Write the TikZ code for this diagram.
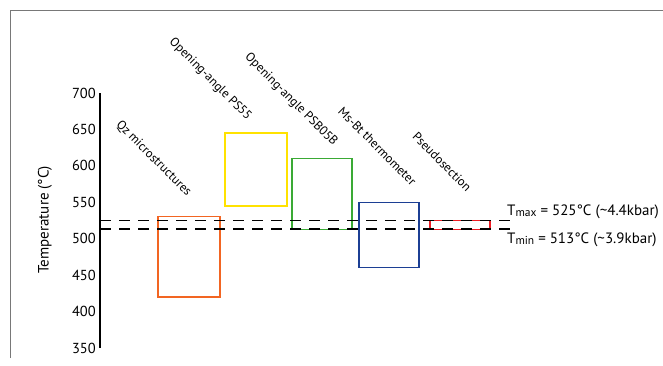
\documentclass[tikz,border=0pt]{standalone}
\usepackage{fontspec}
\setmainfont{PT Sans}
\usetikzlibrary{positioning}
\definecolor{qzorange}{RGB}{242,101,34}
\definecolor{psyellow}{RGB}{255,226,0}
\definecolor{psbgreen}{RGB}{58,170,53}
\definecolor{msblue}{RGB}{28,63,148}
\definecolor{pseudored}{RGB}{237,28,36}
\definecolor{framegray}{RGB}{120,120,120}
\tikzset{
  tbox/.style={line width=1.3pt},
  reflevel/.style={line width=1.8pt, dash pattern=on 11pt off 8pt},
  method/.style={rotate=-45, anchor=east, inner sep=1pt, font=\fontsize{12.5}{14}\selectfont},
  ticklabel/.style={anchor=east, inner sep=1pt, font=\fontsize{14.5}{16}\selectfont},
  tlabel/.style={anchor=west, inner sep=1pt, font=\fontsize{15}{17}\selectfont}
}
\newcommand{\lowsub}[1]{\raisebox{-1pt}{\fontsize{11.5}{13}\selectfont #1}}
\begin{document}
\begin{tikzpicture}[x=1pt,y=1pt]
  \useasboundingbox (0,0) rectangle (663,365);
  % frame of the panel
  \draw[framegray, line width=0.8pt] (10,7) -- (10,355) -- (663,355);
  \begin{scope}[y=0.7286pt, yshift=-238pt]
    % axis
    \draw[line width=1.2pt] (100,350) -- (100,700);
    \foreach \t in {350,400,...,700}
      \node[ticklabel] (tick\t) at (97,\t) {\t};
    \node[rotate=90, font=\fontsize{15}{17}\selectfont] (ylabel) at (45,526) {Temperature (°C)};
    % temperature ranges
    \draw[tbox, qzorange] (158,420) rectangle (220,530);
    \draw[tbox, psyellow] (225,545) rectangle (287,645);
    \draw[tbox, psbgreen] (292,513) rectangle (352,610);
    \draw[tbox, msblue] (359,460) rectangle (419,550);
    \draw[tbox, pseudored] (430,513) rectangle (490,525);
    % method labels
    \node[method] (qz) at (190,560) {Qz microstructures};
    \node[method] (ps55) at (250,664) {Opening-angle PS55};
    \node[method] (psb) at (336,629) {Opening-angle PSB05B};
    \node[method] (msbt) at (415,575) {Ms-Bt thermometer};
    \node[method] (pseudo) at (470,567) {Pseudosection};
    % Tmax / Tmin
    \coordinate (maxL) at (100,525);
    \coordinate (maxR) at (517,525);
    \coordinate (minL) at (100,513);
    \coordinate (minR) at (517,513);
    \draw[reflevel] (maxL) -- (maxR);
    \draw[reflevel] (minL) -- (minR);
    \node[tlabel] (tmax) at (506,537) {T\lowsub{max} = 525°C (\textasciitilde 4.4kbar)};
    \node[tlabel] (tmin) at (506,498) {T\lowsub{min} = 513°C (\textasciitilde 3.9kbar)};
  \end{scope}
\end{tikzpicture}
\end{document}
